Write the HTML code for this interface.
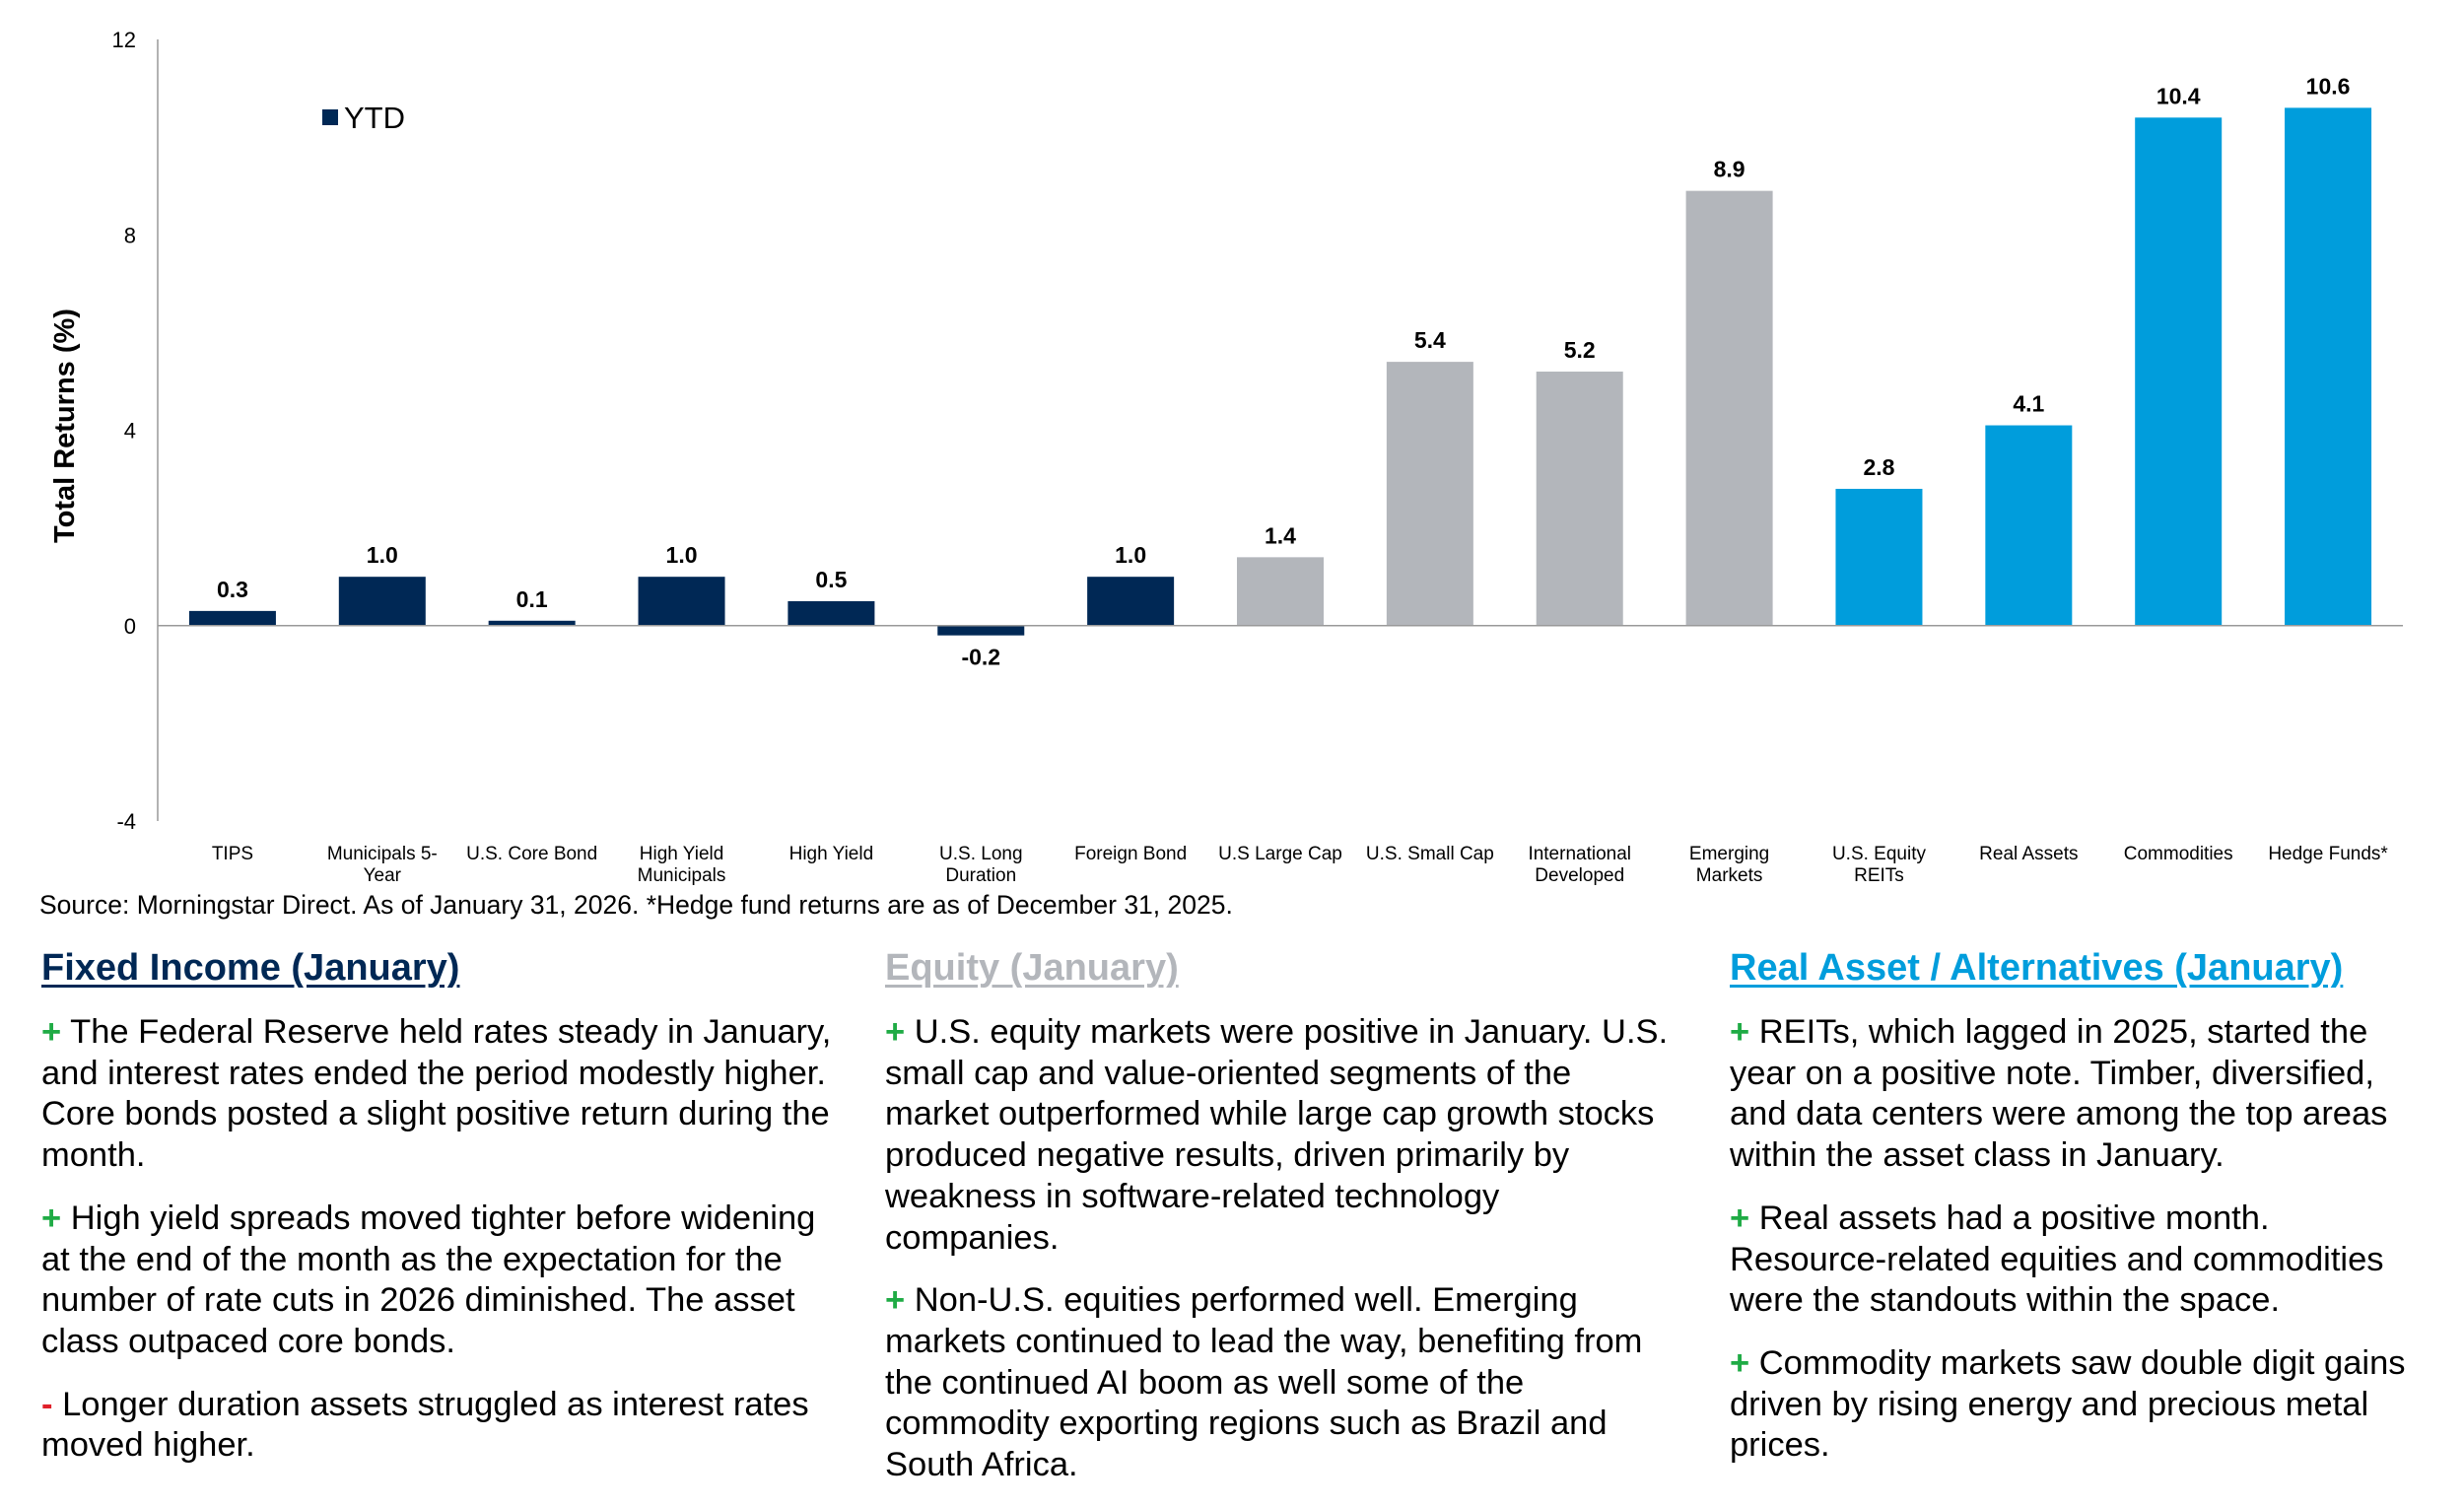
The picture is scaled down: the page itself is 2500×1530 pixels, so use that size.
<!DOCTYPE html>
<html><head><meta charset="utf-8"><style>
body{margin:0;width:2500px;height:1513px;background:#fff;position:relative;overflow:hidden;font-family:"Liberation Sans",Arial,sans-serif;}
.h{position:absolute;top:961px;font-size:38px;font-weight:bold;text-decoration:underline;text-decoration-thickness:3px;text-underline-offset:5px;white-space:nowrap}
.col{position:absolute;top:1027px;font-size:34.5px;line-height:41.7px;color:#000;white-space:nowrap}
.col p{margin:0 0 22px 0}
.p{color:#1fab45;font-weight:bold}
.m{color:#e0202a;font-weight:bold}
</style></head><body>
<svg id="chart" width="2500" height="940" style="position:absolute;left:0;top:0" font-family="Liberation Sans, Arial, sans-serif"></svg>
<div style="position:absolute;left:40px;top:903px;font-size:26.5px;">Source: Morningstar Direct. As of January 31, 2026. *Hedge fund returns are as of December 31, 2025.</div>

<div class="h" style="left:42px;color:#002855">Fixed Income (January)</div>
<div class="h" style="left:898px;color:#b3b6bb">Equity (January)</div>
<div class="h" style="left:1755px;color:#009ddc">Real Asset / Alternatives (January)</div>

<div class="col" style="left:42px">
<p><span class="p">+</span> The Federal Reserve held rates steady in January,<br>and interest rates ended the period modestly higher.<br>Core bonds posted a slight positive return during the<br>month.</p>
<p><span class="p">+</span> High yield spreads moved tighter before widening<br>at the end of the month as the expectation for the<br>number of rate cuts in 2026 diminished. The asset<br>class outpaced core bonds.</p>
<p><span class="m">-</span> Longer duration assets struggled as interest rates<br>moved higher.</p>
</div>
<div class="col" style="left:898px">
<p><span class="p">+</span> U.S. equity markets were positive in January. U.S.<br>small cap and value-oriented segments of the<br>market outperformed while large cap growth stocks<br>produced negative results, driven primarily by<br>weakness in software-related technology<br>companies.</p>
<p><span class="p">+</span> Non-U.S. equities performed well. Emerging<br>markets continued to lead the way, benefiting from<br>the continued AI boom as well some of the<br>commodity exporting regions such as Brazil and<br>South Africa.</p>
</div>
<div class="col" style="left:1755px">
<p><span class="p">+</span> REITs, which lagged in 2025, started the<br>year on a positive note. Timber, diversified,<br>and data centers were among the top areas<br>within the asset class in January.</p>
<p><span class="p">+</span> Real assets had a positive month.<br>Resource-related equities and commodities<br>were the standouts within the space.</p>
<p><span class="p">+</span> Commodity markets saw double digit gains<br>driven by rising energy and precious metal<br>prices.</p>
</div>

<script>
const categories = ["TIPS","Municipals 5-|Year","U.S. Core Bond","High Yield|Municipals","High Yield","U.S. Long|Duration","Foreign Bond","U.S Large Cap","U.S. Small Cap","International|Developed","Emerging|Markets","U.S. Equity|REITs","Real Assets","Commodities","Hedge Funds*"];
const values = [0.3,1.0,0.1,1.0,0.5,-0.2,1.0,1.4,5.4,5.2,8.9,2.8,4.1,10.4,10.6];
const groups = ["fi","fi","fi","fi","fi","fi","fi","eq","eq","eq","eq","ra","ra","ra","ra"];
const yTicks = [12,8,4,0,-4];
const groupColors = {fi:"#002855",eq:"#b3b6bb",ra:"#009ddc"};

const NS="http://www.w3.org/2000/svg";
const svg=document.getElementById('chart');
const X0=160,X1=2438,YT=40,YB=833,VMIN=-4,VMAX=12;
const band=(X1-X0)/categories.length, bw=88;
const y=v=>YB-(v-VMIN)/(VMAX-VMIN)*(YB-YT);
const xc=i=>X0+band*(i+0.5);
function mk(t,a,txt){const e=document.createElementNS(NS,t);for(const k in a)e.setAttribute(k,a[k]);if(txt!=null)e.textContent=txt;svg.appendChild(e);return e;}

const ax=mk('line',{x1:X0,x2:X0,y1:YT,y2:YB,stroke:'#999','stroke-width':1.5});


yTicks.forEach(t=>{
  const e=mk('text',{x:138,y:y(t)+8,'text-anchor':'end','font-size':22,fill:'#000'},String(t));
  
  
});
const tt=mk('text',{x:0,y:0,transform:'translate(75,432) rotate(-90)','text-anchor':'middle','font-size':29,'font-weight':'bold'},'Total Returns (%)');



values.forEach((v,i)=>{
  const top=Math.min(y(v),y(0)),h=Math.abs(y(v)-y(0));
  const r=mk('rect',{x:xc(i)-bw/2,y:top,width:bw,height:Math.max(h,1),fill:groupColors[groups[i]]});
  
  
  const ly=v>=0?y(v)-14:y(v)+30;
  const l=mk('text',{x:xc(i),y:ly,'text-anchor':'middle','font-size':23,'font-weight':'bold'},v.toFixed(1));
  
  
  categories[i].split('|').forEach((s,j)=>{
    const c=mk('text',{x:xc(i),y:872+j*22,'text-anchor':'middle','font-size':19},s);
    
    
  });
});
const zl=mk('line',{x1:X0,x2:X1,y1:y(0),y2:y(0),stroke:'#999','stroke-width':1.5});


const lg=mk('rect',{x:327,y:111,width:16,height:16,fill:'#002855'});


const lt=mk('text',{x:349,y:130,'font-size':31},'YTD');


</script>
</body></html>
